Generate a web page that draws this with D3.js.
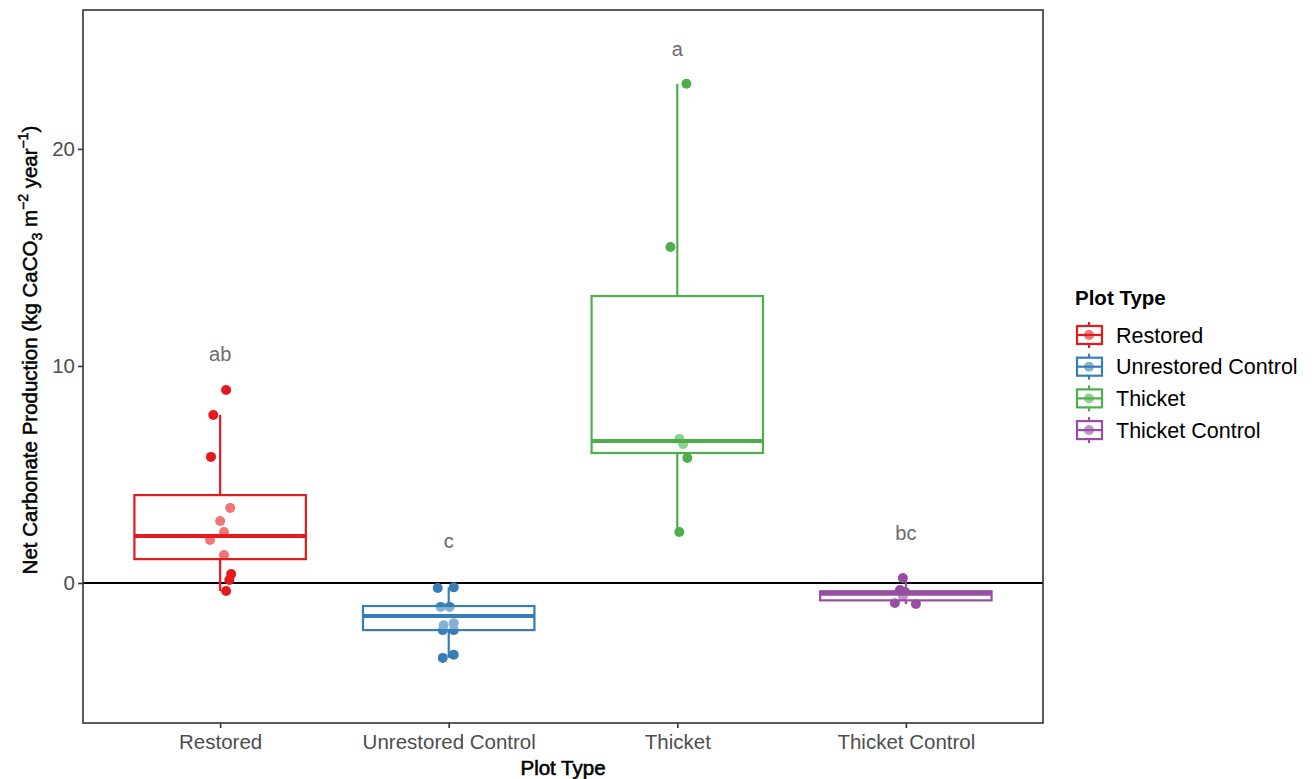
<!DOCTYPE html>
<html>
<head>
<meta charset="utf-8">
<script src="https://cdn.jsdelivr.net/npm/d3@7"></script>
<style>
  body { margin: 0; background: #fff; }
  svg { font-family: "Liberation Sans", Arial, sans-serif; }
</style>
</head>
<body>
<svg id="chart" width="1316" height="779"></svg>
<script>
const categories = ['Restored', 'Unrestored Control', 'Thicket', 'Thicket Control'];
const colors = ['#E41A1C', '#377EB8', '#4DAF4A', '#984EA3'];
const letters = ['ab', 'c', 'a', 'bc'];
const letterY = [10.55, 1.94, 24.6, 2.3];

// box stats: lower whisker, q1, median, q3, upper whisker
const boxLow = [-0.37, -3.45, 2.35, -0.97];
const boxQ1 = [1.1, -2.17, 5.99, -0.8];
const boxMedian = [2.17, -1.52, 6.54, -0.5];
const boxQ3 = [4.05, -1.06, 13.22, -0.38];
const boxHigh = [7.74, -0.2, 23.0, 0.23];

// raw points and their jitter (fraction of category step)
const restoredVals = [8.89, 7.74, 5.81, 3.46, 2.86, 2.35, 1.98, 1.29, 0.41, 0.14, -0.37];
const restoredJit = [0.026, -0.03, -0.04, 0.044, 0, 0.017, -0.044, 0.017, 0.048, 0.04, 0.026];
const unrestoredVals = [-0.23, -0.2, -1.1, -1.1, -1.95, -1.85, -2.17, -2.17, -3.45, -3.3];
const unrestoredJit = [-0.048, 0.022, -0.035, 0.004, -0.022, 0.022, -0.026, 0.022, -0.026, 0.022];
const thicketVals = [23.0, 15.48, 6.64, 6.4, 5.76, 2.35];
const thicketJit = [0.04, -0.03, 0.009, 0.026, 0.044, 0.009];
const thicketCtrlVals = [0.23, -0.32, -0.41, -0.6, -0.92, -0.97];
const thicketCtrlJit = [-0.013, -0.026, -0.004, -0.013, -0.048, 0.044];

const yTicks = [0, 10, 20];

const pointSets = [
  { vals: restoredVals, jit: restoredJit },
  { vals: unrestoredVals, jit: unrestoredJit },
  { vals: thicketVals, jit: thicketJit },
  { vals: thicketCtrlVals, jit: thicketCtrlJit }
];

const margin = { left: 83, right: 1043, top: 10, bottom: 723 };
const svg = d3.select('#chart');

const x = d3.scalePoint()
  .domain(categories)
  .range([margin.left, margin.right])
  .padding(0.6);
const step = x.step();
const boxW = step * 0.75;

const y = d3.scaleLinear()
  .domain([-6.45, 26.4])
  .range([margin.bottom, margin.top]);

// zero line
svg.append('line')
  .attr('x1', margin.left).attr('x2', margin.right)
  .attr('y1', y(0)).attr('y2', y(0))
  .attr('stroke', '#000').attr('stroke-width', 2);

// points first, boxes on top (semi transparent fill lightens points inside)
pointSets.forEach((set, i) => {
  const cx = x(categories[i]);
  svg.append('g').selectAll('circle')
    .data(set.vals)
    .enter()
    .append('circle')
    .attr('cx', (d, j) => cx + set.jit[j] * step)
    .attr('cy', d => y(d))
    .attr('r', 5)
    .attr('fill', colors[i]);
});

categories.forEach((cat, i) => {
  const cx = x(cat);
  const g = svg.append('g')
    .attr('stroke', colors[i])
    .attr('stroke-width', 2.2);
  g.append('line')
    .attr('x1', cx).attr('x2', cx)
    .attr('y1', y(boxQ3[i])).attr('y2', y(boxHigh[i]));
  g.append('line')
    .attr('x1', cx).attr('x2', cx)
    .attr('y1', y(boxQ1[i])).attr('y2', y(boxLow[i]));
  g.append('rect')
    .attr('x', cx - boxW / 2)
    .attr('y', y(boxQ3[i]))
    .attr('width', boxW)
    .attr('height', y(boxQ1[i]) - y(boxQ3[i]))
    .attr('fill', '#fff')
    .attr('fill-opacity', 0.4);
  g.append('line')
    .attr('x1', cx - boxW / 2).attr('x2', cx + boxW / 2)
    .attr('y1', y(boxMedian[i])).attr('y2', y(boxMedian[i]))
    .attr('stroke-width', 4);

  svg.append('text')
    .attr('x', cx)
    .attr('y', y(letterY[i]))
    .attr('dy', '0.35em')
    .attr('text-anchor', 'middle')
    .attr('fill', '#6b6b6b')
    .style('font-size', '20px')
    .text(letters[i]);
});

// panel border
svg.append('rect')
  .attr('x', margin.left).attr('y', margin.top)
  .attr('width', margin.right - margin.left)
  .attr('height', margin.bottom - margin.top)
  .attr('fill', 'none')
  .attr('stroke', '#333')
  .attr('stroke-width', 1.6);

// axes
const yAxis = svg.append('g')
  .attr('transform', `translate(${margin.left},0)`)
  .call(d3.axisLeft(y).tickValues(yTicks).tickSize(5).tickPadding(3));
const xAxis = svg.append('g')
  .attr('transform', `translate(0,${margin.bottom})`)
  .call(d3.axisBottom(x).tickSize(5).tickPadding(6));
[yAxis, xAxis].forEach(a => {
  a.select('.domain').remove();
  a.selectAll('line').attr('stroke', '#333').attr('stroke-width', 1.6);
  a.selectAll('text')
    .attr('fill', '#4d4d4d')
    .style('font-size', '20.5px')
    .style('font-family', '"Liberation Sans", Arial, sans-serif');
});

// axis titles
svg.append('text')
  .attr('x', (margin.left + margin.right) / 2)
  .attr('y', 775)
  .attr('text-anchor', 'middle')
  .attr('stroke', '#000').attr('stroke-width', 0.6)
  .style('font-size', '20.5px')
  .text('Plot Type');

const yTitle = svg.append('text')
  .attr('transform', 'translate(37,350) rotate(-90)')
  .attr('text-anchor', 'middle')
  .attr('stroke', '#000').attr('stroke-width', 0.5)
  .style('font-size', '20.5px');
yTitle.append('tspan').text('Net Carbonate Production (kg CaCO');
yTitle.append('tspan').attr('dy', 5).style('font-size', '14px').text('3');
yTitle.append('tspan').attr('dy', -5).text(' m');
yTitle.append('tspan').attr('dy', -9).style('font-size', '14px').text('\u22122');
yTitle.append('tspan').attr('dy', 9).text(' year');
yTitle.append('tspan').attr('dy', -9).style('font-size', '14px').text('\u22121');
yTitle.append('tspan').attr('dy', 9).text(')');

// legend
const legend = svg.append('g').attr('transform', 'translate(1075,0)');
legend.append('text')
  .attr('x', 0).attr('y', 305)
  .style('font-size', '20.5px')
  .style('font-weight', 'bold')
  .text('Plot Type');
categories.forEach((cat, i) => {
  const cy = 335 + i * 31.7;
  const k = legend.append('g').attr('transform', `translate(0,${cy})`);
  k.append('circle').attr('cx', 14).attr('cy', 0).attr('r', 5).attr('fill', colors[i]);
  const kb = k.append('g').attr('stroke', colors[i]).attr('stroke-width', 2.2);
  kb.append('line').attr('x1', 14).attr('x2', 14).attr('y1', -13).attr('y2', -9);
  kb.append('line').attr('x1', 14).attr('x2', 14).attr('y1', 9).attr('y2', 13);
  kb.append('rect').attr('x', 2).attr('y', -9).attr('width', 25).attr('height', 18)
    .attr('fill', '#fff').attr('fill-opacity', 0.4);
  kb.append('line').attr('x1', 2).attr('x2', 27).attr('y1', 0).attr('y2', 0);
  k.append('text')
    .attr('x', 41).attr('y', 0).attr('dy', '0.35em')
    .style('font-size', '21.5px')
    .text(cat);
});
</script>
</body>
</html>
